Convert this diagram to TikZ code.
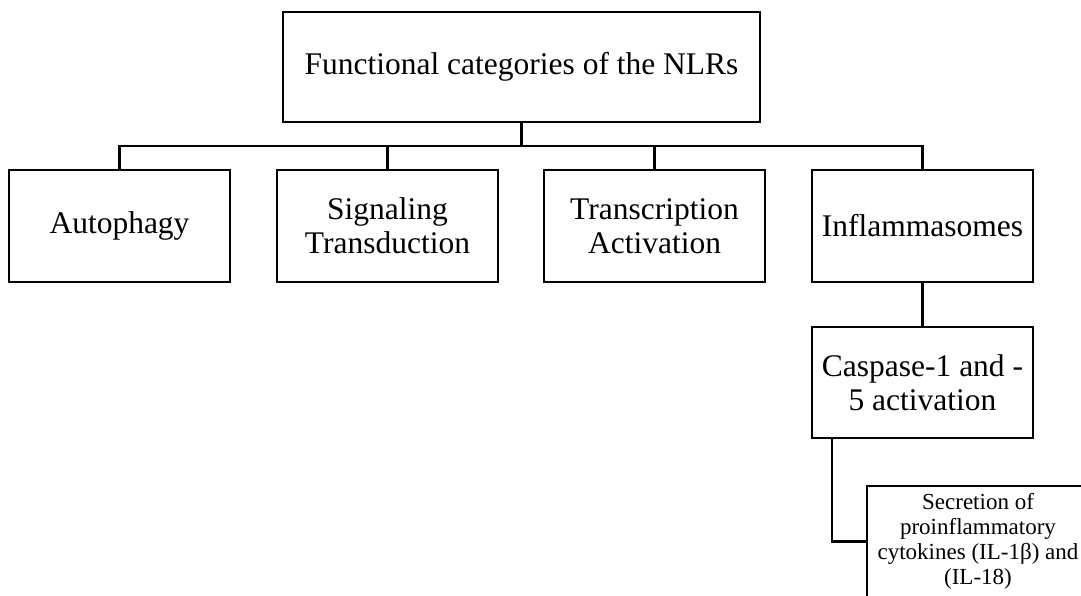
\documentclass[tikz,border=0pt]{standalone}
\usepackage{fontspec}
\setmainfont{Liberation Serif}
\usetikzlibrary{positioning,calc}

\begin{document}
\begin{tikzpicture}[x=1pt, y=-1pt,
    catbox/.style={draw, line width=2.6pt, minimum width=221pt, minimum height=112pt,
        inner sep=0pt, align=center, font=\fontsize{31.5}{34}\selectfont},
    link/.style={line width=2.2pt}]
    \clip (0,0) rectangle (1081,595);
    \fill[white] (0,0) rectangle (1081,595);

    % Root category box
    \node[catbox, minimum width=477pt, minimum height=110pt] (root) at (521.5,67) {Functional categories of the NLRs};

    % Four functional categories
    \node[catbox] (auto) at (119.5,226) {Autophagy};
    \node[catbox] (signal) at (387.5,226) {Signaling\\Transduction};
    \node[catbox] (transc) at (654.5,226) {Transcription\\Activation};
    \node[catbox] (inflam) at (922.5,226) {Inflammasomes};

    % Inflammasome branch
    \node[catbox, minimum height=111pt] (casp) at (922.5,382.5) {Caspase-1 and -\\5 activation};
    \node[catbox, minimum width=222pt, minimum height=111pt, font=\fontsize{23}{25}\selectfont]
        (secret) at (978,541.5) {Secretion of\\proinflammatory\\cytokines (IL-1β) and\\(IL-18)};

    % Tree connectors
    \coordinate (bar) at (521.5,146);
    \draw[link] (root.south) -- (bar);
    \draw[link] (bar) -| (auto.north);
    \draw[link] (bar) -| (signal.north);
    \draw[link] (bar) -| (transc.north);
    \draw[link] (bar) -| (inflam.north);
    \draw[link] (inflam.south) -- (casp.north);
    \draw[link] ($(casp.south west)+(21,0)$) |- (secret.west);
\end{tikzpicture}
\end{document}
